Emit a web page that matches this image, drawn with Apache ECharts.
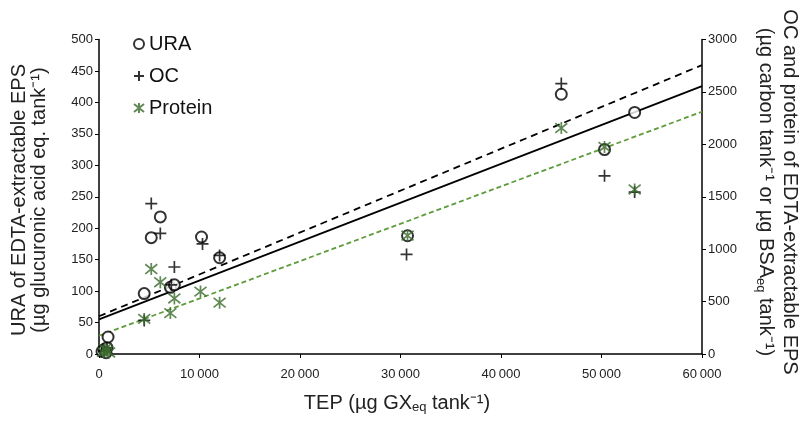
<!DOCTYPE html>
<html>
<head>
<meta charset="utf-8">
<script src="https://cdn.jsdelivr.net/npm/echarts@6/dist/echarts.min.js"></script>
<style>
  html, body { margin: 0; padding: 0; background: #fff; }
  #chart { width: 802px; height: 421px; }
</style>
</head>
<body>
<div id="chart"></div>
<script>
// TEP (x) vs EPS quantities. URA on left axis, OC and protein on right axis.
const uraData = [
  [300, 4], [500, 7], [800, 10], [700, 2], [900, 27], [4500, 96], [5200, 185], [6100, 218],
  [7100, 106], [7500, 110], [10200, 186], [12000, 153], [30700, 188],
  [46000, 413], [50300, 325], [53300, 384]
]
const ocData = [
  [500, 30], [800, 60], [4500, 320], [5200, 1435], [6100, 1150], [7200, 660],
  [7500, 830], [10300, 1050], [12000, 940], [30600, 950], [46000, 2580],
  [50300, 1700], [53300, 1545]
]
const proteinData = [
  [400, 20], [600, 50], [800, 30], [1000, 15], [4500, 335], [5200, 810],
  [6100, 685], [7100, 390], [7500, 530], [10100, 595], [12000, 490],
  [30700, 1130], [46000, 2155], [50300, 1975], [53300, 1570]
]
// fitted trend lines, end points at x = 0 and x = 60000
const uraFit = [[0, 55], [60000, 426]]
const ocFit = [[0, 360], [60000, 2756]]
const proteinFit = [[0, 174], [60000, 2311]]

const FONT = 'Liberation Sans, Arial, sans-serif'
const plusPath = 'path://M5,0 L5,10 M0,5 L10,5'
const starPath = 'path://M0,1 L10,9 M10,1 L0,9 M5,0 L5,10'
const green = '#3b6a2c'
const lineGreen = '#5e9b3b'

// thin space as thousands separator for the x axis, no separator elsewhere
const fmtX = (v) => v >= 10000 ? String(v).replace(/(\d)(\d{3})$/, '$1\u2009$2') : String(v)
const fmtPlain = (v) => String(v)

const chart = echarts.init(document.getElementById('chart'))

const option = {
  backgroundColor: '#fff',
  animation: false,
  grid: { left: 99, right: 100, top: 39.5, bottom: 67 },
  legend: {
    orient: 'vertical',
    left: 128,
    top: 29,
    itemGap: 12,
    itemWidth: 10,
    itemHeight: 10,
    textStyle: { fontFamily: FONT, fontSize: 20, color: '#111', padding: [0, 0, 0, 0] },
    data: ['URA', 'OC', 'Protein'],
  },
  xAxis: {
    type: 'value',
    min: 0,
    max: 60000,
    interval: 10000,
    splitLine: { show: false },
    axisLine: { lineStyle: { color: '#000', width: 1.5 } },
    axisTick: { show: true, length: 4, lineStyle: { color: '#000' } },
    axisLabel: { color: '#222', fontFamily: FONT, fontSize: 13, margin: 14, formatter: fmtX },
  },
  yAxis: [
    {
      type: 'value',
      min: 0,
      max: 500,
      interval: 50,
      splitLine: { show: false },
      axisLine: { show: true, lineStyle: { color: '#000', width: 1.5 } },
      axisTick: { show: true, length: 4, lineStyle: { color: '#000' } },
      axisLabel: { color: '#222', fontFamily: FONT, fontSize: 13, margin: 6, formatter: fmtPlain },
    },
    {
      type: 'value',
      min: 0,
      max: 3000,
      interval: 500,
      position: 'right',
      splitLine: { show: false },
      axisLine: { show: true, lineStyle: { color: '#000', width: 1.5 } },
      axisTick: { show: true, length: 4, lineStyle: { color: '#000' } },
      axisLabel: { color: '#222', fontFamily: FONT, fontSize: 13, margin: 6, formatter: fmtPlain },
    },
  ],
  graphic: [
    {
      type: 'text',
      x: 29,
      y: 200,
      rotation: Math.PI / 2,
      style: {
        text: 'URA of EDTA-extractable EPS\n(µg glucuronic acid eq. tank⁻¹)',
        font: '20px ' + FONT,
        fill: '#222',
        align: 'center',
        verticalAlign: 'middle',
        lineHeight: 20,
      },
    },
    {
      type: 'text',
      x: 778,
      y: 192,
      rotation: -Math.PI / 2,
      style: {
        text: 'OC and protein of EDTA-extractable EPS\n(µg carbon tank⁻¹ or µg BSA{sub|eq} tank⁻¹)',
        font: '20px ' + FONT,
        fill: '#222',
        align: 'center',
        verticalAlign: 'middle',
        lineHeight: 24,
        rich: {
          sub: { fontSize: 13, fontFamily: FONT, fill: '#222', verticalAlign: 'bottom', padding: [8, 0, 0, 0] },
        },
      },
    },
    {
      type: 'text',
      x: 397,
      y: 403,
      style: {
        text: 'TEP (µg GX{sub|eq} tank⁻¹)',
        font: '20px ' + FONT,
        fill: '#222',
        align: 'center',
        verticalAlign: 'middle',
        rich: {
          sub: { fontSize: 13, fontFamily: FONT, fill: '#222', verticalAlign: 'bottom', padding: [8, 0, 0, 0] },
        },
      },
    },
  ],
  series: [
    {
      name: 'URA',
      type: 'scatter',
      yAxisIndex: 0,
      symbol: 'emptyCircle',
      symbolSize: 11,
      itemStyle: { color: '#000', borderColor: '#000', borderWidth: 1.6 },
      data: uraData,
      z: 5,
    },
    {
      name: 'OC',
      type: 'scatter',
      yAxisIndex: 1,
      symbol: plusPath,
      symbolSize: 12,
      itemStyle: { color: 'transparent', borderColor: '#000', borderWidth: 1.7 },
      data: ocData,
      z: 5,
    },
    {
      name: 'Protein',
      type: 'scatter',
      yAxisIndex: 1,
      symbol: starPath,
      symbolSize: 12,
      itemStyle: { color: 'transparent', borderColor: green, borderWidth: 1.7 },
      data: proteinData,
      z: 5,
    },
    {
      name: 'URA fit',
      type: 'line',
      yAxisIndex: 0,
      data: uraFit,
      showSymbol: false,
      lineStyle: { color: '#000', width: 1.8, type: 'solid' },
      silent: true,
    },
    {
      name: 'OC fit',
      type: 'line',
      yAxisIndex: 1,
      data: ocFit,
      showSymbol: false,
      lineStyle: { color: '#000', width: 1.8, type: [7, 5] },
      silent: true,
    },
    {
      name: 'Protein fit',
      type: 'line',
      yAxisIndex: 1,
      data: proteinFit,
      showSymbol: false,
      lineStyle: { color: lineGreen, width: 1.8, type: [5, 3] },
      silent: true,
    },
  ],
}

chart.setOption(option)
</script>
</body>
</html>
